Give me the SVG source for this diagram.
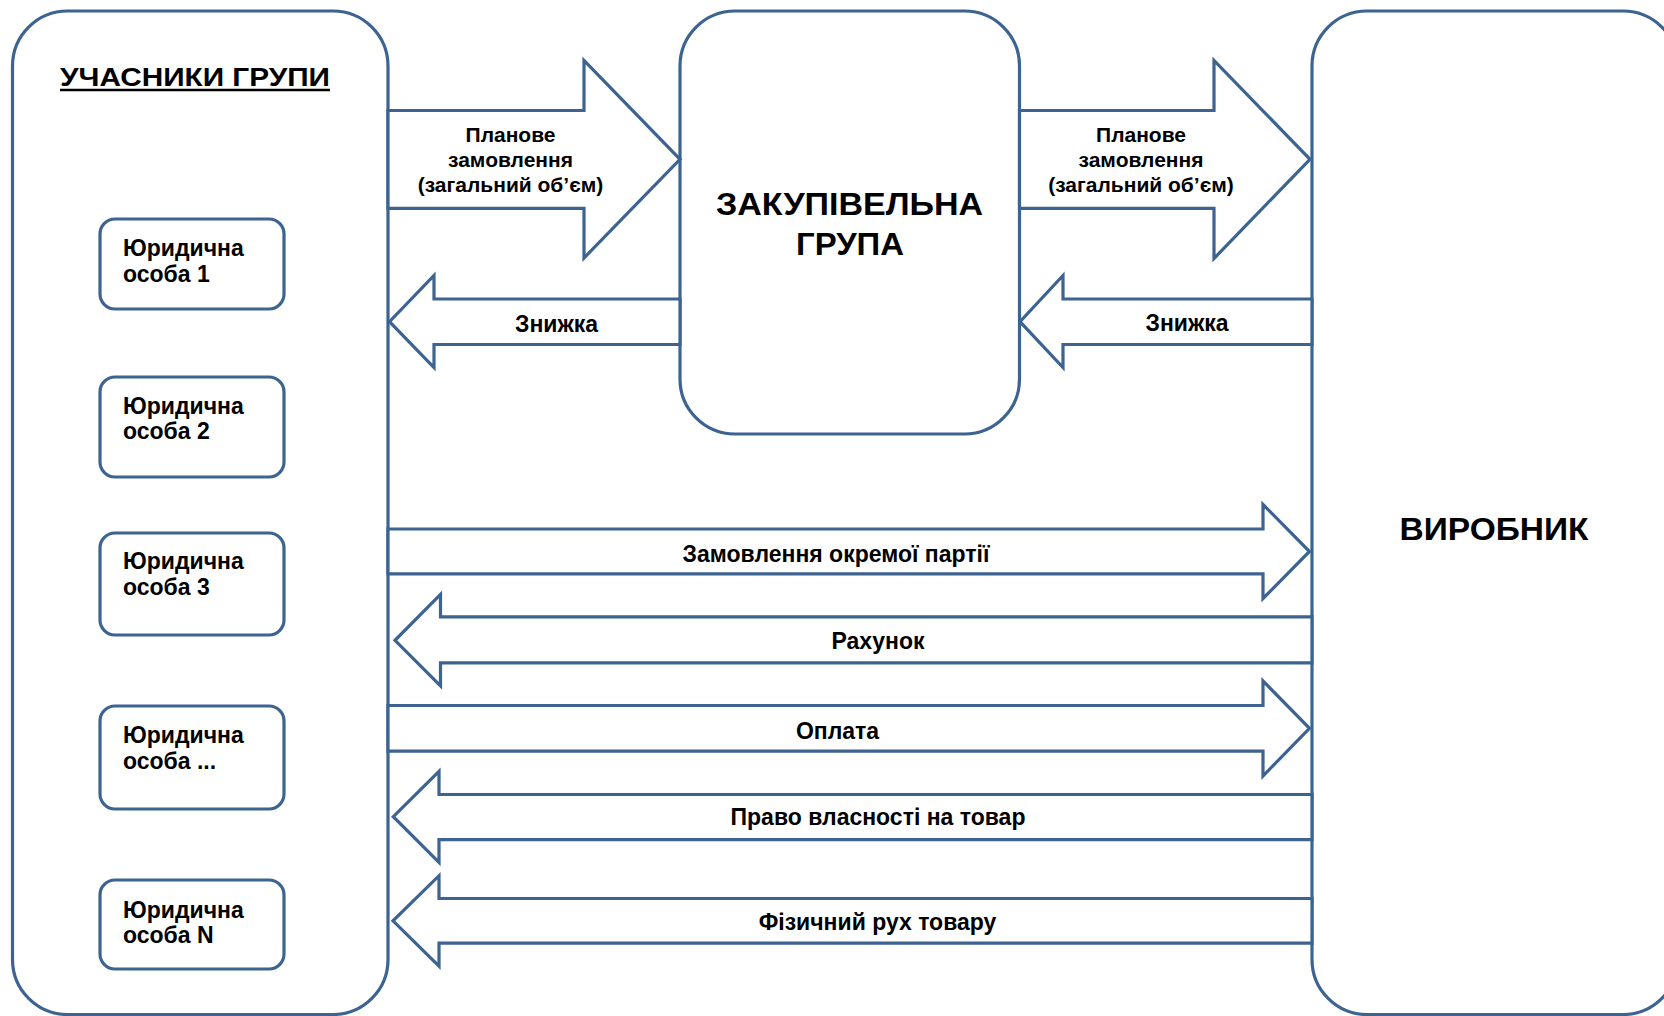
<svg xmlns="http://www.w3.org/2000/svg" width="1664" height="1016" viewBox="0 0 1664 1016">
<style>
.box{fill:#fff;stroke:#3d6391;stroke-width:3.2}
.sbox{fill:#fff;stroke:#3d6391;stroke-width:3.2}
.arr{fill:#fff;stroke:#3d6391;stroke-width:3.2;stroke-linejoin:miter}
text{font-family:"Liberation Sans",Arial,sans-serif;font-weight:bold;fill:#000}
.big{font-size:31px;text-anchor:middle}
.lbl{font-size:23px;text-anchor:middle}
.plan{font-size:21px;text-anchor:middle}
.item{font-size:23px}
</style>
<rect width="1664" height="1016" fill="#fff"/>
<g id="members">
<rect class="box" x="12.5" y="11" width="375.5" height="1003.5" rx="55" ry="55"/>
<text x="60" y="86" font-size="26" textLength="270" lengthAdjust="spacingAndGlyphs">УЧАСНИКИ ГРУПИ</text>
<line x1="60" y1="90" x2="330" y2="90" stroke="#000" stroke-width="2.4"/>
</g>
<g id="entity1">
<rect class="sbox" x="100" y="219" width="184" height="90" rx="15" ry="15"/>
<text class="item" x="123" y="255.7">Юридична</text>
<text class="item" x="123" y="281.7">особа 1</text>
</g>
<g id="entity2">
<rect class="sbox" x="100" y="377" width="184" height="100" rx="15" ry="15"/>
<text class="item" x="123" y="413.5">Юридична</text>
<text class="item" x="123" y="439">особа 2</text>
</g>
<g id="entity3">
<rect class="sbox" x="100" y="533" width="184" height="102" rx="15" ry="15"/>
<text class="item" x="123" y="569">Юридична</text>
<text class="item" x="123" y="594.5">особа 3</text>
</g>
<g id="entity4">
<rect class="sbox" x="100" y="706" width="184" height="103" rx="15" ry="15"/>
<text class="item" x="123" y="743">Юридична</text>
<text class="item" x="123" y="768.5">особа ...</text>
</g>
<g id="entityN">
<rect class="sbox" x="100" y="880" width="184" height="89" rx="15" ry="15"/>
<text class="item" x="123" y="917.5">Юридична</text>
<text class="item" x="123" y="943">особа N</text>
</g>
<g id="purchasing-group">
<rect class="box" x="680" y="11" width="339.5" height="423" rx="55" ry="55"/>
<text class="big" x="849.5" y="215" textLength="267" lengthAdjust="spacingAndGlyphs">ЗАКУПІВЕЛЬНА</text>
<text class="big" x="850" y="255" textLength="108" lengthAdjust="spacingAndGlyphs">ГРУПА</text>
</g>
<g id="producer">
<rect class="box" x="1312" y="11" width="366" height="1003.5" rx="55" ry="55"/>
<text class="big" x="1494" y="540" font-size="32" textLength="189" lengthAdjust="spacingAndGlyphs">ВИРОБНИК</text>
</g>
<g id="connectors">
<polygon class="arr" points="388,110.5 584,110.5 584,60.5 680,159.3 584,258 584,208.3 388,208.3"/>
<text class="plan" x="510.5" y="142">Планове</text>
<text class="plan" x="510.5" y="167">замовлення</text>
<text class="plan" x="510.5" y="192">(загальний об’єм)</text>
<polygon class="arr" points="1019.5,110.5 1214,110.5 1214,60.5 1310,159.3 1214,258.5 1214,208.3 1019.5,208.3"/>
<text class="plan" x="1141" y="142">Планове</text>
<text class="plan" x="1141" y="167">замовлення</text>
<text class="plan" x="1141" y="192">(загальний об’єм)</text>
<polygon class="arr" points="680,299 434,299 434,275.5 389.5,321.7 434,367.5 434,344.5 680,344.5"/>
<text class="lbl" x="556.5" y="331.7">Знижка</text>
<polygon class="arr" points="1312,299 1063,299 1063,275.5 1020,321.7 1063,367.5 1063,344.5 1312,344.5"/>
<text class="lbl" x="1187" y="330.5">Знижка</text>
<polygon class="arr" points="388,529 1263,529 1263,504.5 1309.5,551.5 1263,598.5 1263,573.8 388,573.8"/>
<text class="lbl" x="836" y="561.7">Замовлення окремої партії</text>
<polygon class="arr" points="1312,616.8 440.5,616.8 440.5,594.3 395,640.3 440.5,686 440.5,662.8 1312,662.8"/>
<text class="lbl" x="878" y="648.5">Рахунок</text>
<polygon class="arr" points="388,705.5 1263,705.5 1263,681 1309.5,728.3 1263,776 1263,751.2 388,751.2"/>
<text class="lbl" x="837.5" y="738.8">Оплата</text>
<polygon class="arr" points="1312,794.5 439,794.5 439,771.4 393.3,816.7 439,862.5 439,839.7 1312,839.7"/>
<text class="lbl" x="878" y="825.4">Право власності на товар</text>
<polygon class="arr" points="1312,898.5 439,898.5 439,875.7 393,920.8 439,966.2 439,943.2 1312,943.2"/>
<text class="lbl" x="877.5" y="930">Фізичний рух товару</text>
</g>
</svg>
